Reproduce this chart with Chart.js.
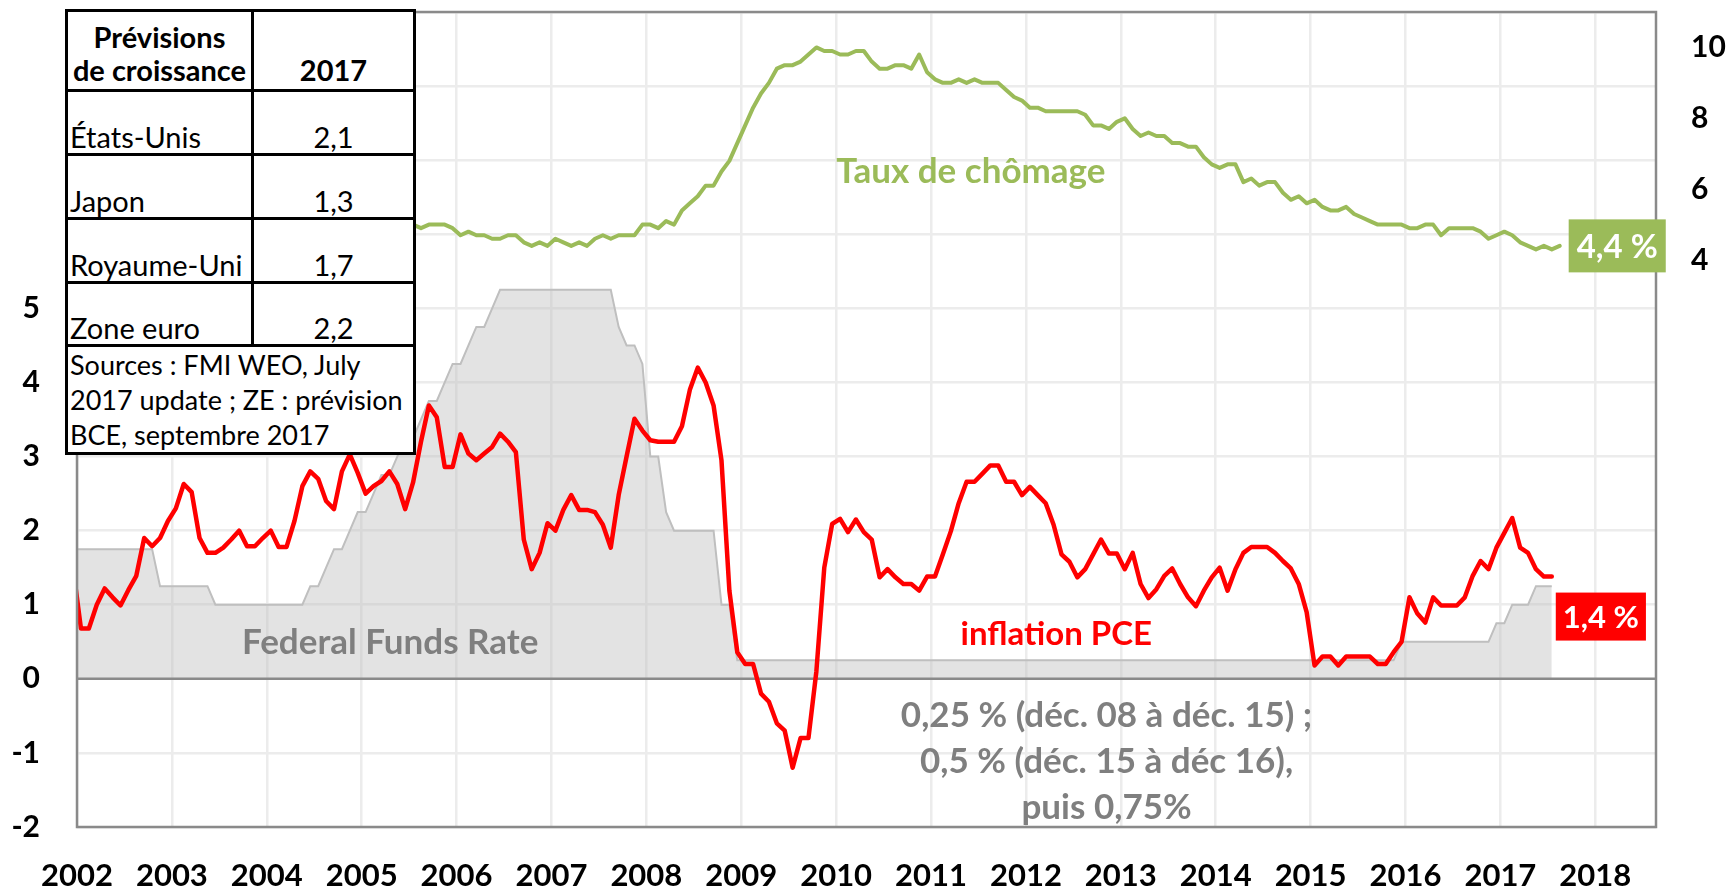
<!DOCTYPE html>
<html lang="fr">
<head>
<meta charset="utf-8">
<title>Inflation PCE, chômage et Federal Funds Rate</title>
<script src="https://cdn.jsdelivr.net/npm/chart.js@4.4.1/dist/chart.umd.min.js"></script>
<style>
  html, body { margin: 0; padding: 0; background: #fff; }
  #wrap { position: relative; width: 1731px; height: 888px; overflow: hidden; }
  #chart { position: absolute; left: 0; top: 0; }
  #prev {
    position: absolute; left: 65px; top: 9px;
    border-collapse: collapse; table-layout: fixed;
    background: #fff; color: #000;
    font-family: Lato, sans-serif; font-size: 29px; line-height: 33px;
  }
  #prev td, #prev th { border: 3px solid #000; padding: 0 2px; white-space: nowrap; overflow: hidden; }
  #prev th { font-weight: bold; text-align: center; vertical-align: bottom; padding-bottom: 3px; }
  #prev td { vertical-align: bottom; }
  #prev td.v { text-align: center; }
  #prev td.src { vertical-align: top; font-size: 27px; line-height: 35px; padding-top: 0; }
</style>
</head>
<body>
<div id="wrap">
  <canvas id="chart" width="1731" height="888"></canvas>
  <table id="prev">
    <colgroup><col style="width:186px"><col style="width:162px"></colgroup>
    <tbody id="prevBody"></tbody>
  </table>
</div>
<script>
// --- DATA (mensuel, de déc. 2001 à juil./août 2017) ---
// inflation PCE, glissement annuel (%)
const pce = [
  1.5,
  0.68, 0.68, 1.0, 1.22, 1.1, 0.99, 1.2, 1.39, 1.9, 1.79, 1.9, 2.13,      // 2002
  2.3, 2.63, 2.52, 1.9, 1.7, 1.7, 1.77, 1.88, 2.0, 1.79, 1.79, 1.9,        // 2003
  2.0, 1.78, 1.78, 2.13, 2.6, 2.8, 2.7, 2.4, 2.29, 2.8, 3.03, 2.78,        // 2004
  2.5, 2.6, 2.67, 2.8, 2.63, 2.29, 2.65, 3.2, 3.69, 3.53, 2.86, 2.86,      // 2005
  3.3, 3.04, 2.95, 3.04, 3.13, 3.31, 3.2, 3.06, 1.88, 1.48, 1.7, 2.1,      // 2006
  2.0, 2.28, 2.48, 2.28, 2.28, 2.25, 2.08, 1.77, 2.48, 3.0, 3.51, 3.35,    // 2007
  3.22, 3.2, 3.2, 3.2, 3.41, 3.9, 4.2, 4.0, 3.69, 2.95, 1.19, 0.36,        // 2008
  0.2, 0.2, -0.2, -0.31, -0.6, -0.7, -1.2, -0.8, -0.8, 0.1, 1.5, 2.09,     // 2009
  2.16, 1.98, 2.15, 1.98, 1.88, 1.37, 1.48, 1.37, 1.28, 1.28, 1.19, 1.38,  // 2010
  1.38, 1.68, 1.99, 2.37, 2.66, 2.66, 2.77, 2.88, 2.88, 2.66, 2.66, 2.48,  // 2011
  2.59, 2.48, 2.37, 2.08, 1.68, 1.58, 1.37, 1.48, 1.68, 1.88, 1.69, 1.69,  // 2012
  1.48, 1.7, 1.28, 1.09, 1.21, 1.39, 1.49, 1.28, 1.1, 0.98, 1.19, 1.37,    // 2013
  1.5, 1.19, 1.48, 1.7, 1.78, 1.78, 1.78, 1.7, 1.59, 1.49, 1.28, 0.9,      // 2014
  0.18, 0.3, 0.3, 0.18, 0.3, 0.3, 0.3, 0.3, 0.2, 0.2, 0.36, 0.5,           // 2015
  1.1, 0.88, 0.76, 1.1, 0.99, 0.99, 0.99, 1.1, 1.39, 1.59, 1.48, 1.77,     // 2016
  1.97, 2.17, 1.77, 1.7, 1.48, 1.38, 1.38                                  // 2017
];

// taux de chômage (%), axe de droite
const unemployment = [
  5.7,
  5.7, 5.7, 5.7, 5.9, 5.8, 5.8, 5.8, 5.7, 5.7, 5.7, 5.9, 6.0,   // 2002
  5.8, 5.9, 5.9, 6.0, 6.1, 6.3, 6.2, 6.1, 6.1, 6.0, 5.8, 5.7,   // 2003
  5.7, 5.6, 5.8, 5.6, 5.6, 5.6, 5.5, 5.4, 5.4, 5.5, 5.4, 5.4,   // 2004
  5.3, 5.4, 5.2, 5.2, 5.1, 5.0, 5.0, 4.9, 5.0, 5.0, 5.0, 4.9,   // 2005
  4.7, 4.8, 4.7, 4.7, 4.6, 4.6, 4.7, 4.7, 4.5, 4.4, 4.5, 4.4,   // 2006
  4.6, 4.5, 4.4, 4.5, 4.4, 4.6, 4.7, 4.6, 4.7, 4.7, 4.7, 5.0,   // 2007
  5.0, 4.9, 5.1, 5.0, 5.4, 5.6, 5.8, 6.1, 6.1, 6.5, 6.8, 7.3,   // 2008
  7.8, 8.3, 8.7, 9.0, 9.4, 9.5, 9.5, 9.6, 9.8, 10.0, 9.9, 9.9,  // 2009
  9.8, 9.8, 9.9, 9.9, 9.6, 9.4, 9.4, 9.5, 9.5, 9.4, 9.8, 9.3,   // 2010
  9.1, 9.0, 9.0, 9.1, 9.0, 9.1, 9.0, 9.0, 9.0, 8.8, 8.6, 8.5,   // 2011
  8.3, 8.3, 8.2, 8.2, 8.2, 8.2, 8.2, 8.1, 7.8, 7.8, 7.7, 7.9,   // 2012
  8.0, 7.7, 7.5, 7.6, 7.5, 7.5, 7.3, 7.3, 7.2, 7.2, 6.9, 6.7,   // 2013
  6.6, 6.7, 6.7, 6.2, 6.3, 6.1, 6.2, 6.2, 5.9, 5.7, 5.8, 5.6,   // 2014
  5.7, 5.5, 5.4, 5.4, 5.5, 5.3, 5.2, 5.1, 5.0, 5.0, 5.0, 5.0,   // 2015
  4.9, 4.9, 5.0, 5.0, 4.7, 4.9, 4.9, 4.9, 4.9, 4.8, 4.6, 4.7,   // 2016
  4.8, 4.7, 4.5, 4.4, 4.3, 4.4, 4.3, 4.4                        // 2017
];

// taux des Fed funds (borne haute de la cible, %)
const fedFunds = [
  1.75,
  1.75, 1.75, 1.75, 1.75, 1.75, 1.75, 1.75, 1.75, 1.75, 1.75, 1.25, 1.25, // 2002
  1.25, 1.25, 1.25, 1.25, 1.25, 1.0, 1.0, 1.0, 1.0, 1.0, 1.0, 1.0,       // 2003
  1.0, 1.0, 1.0, 1.0, 1.0, 1.25, 1.25, 1.5, 1.75, 1.75, 2.0, 2.25,       // 2004
  2.25, 2.5, 2.75, 2.75, 3.0, 3.25, 3.25, 3.5, 3.75, 3.75, 4.0, 4.25,    // 2005
  4.25, 4.5, 4.75, 4.75, 5.0, 5.25, 5.25, 5.25, 5.25, 5.25, 5.25, 5.25,  // 2006
  5.25, 5.25, 5.25, 5.25, 5.25, 5.25, 5.25, 5.25, 4.75, 4.5, 4.5, 4.25,  // 2007
  3.0, 3.0, 2.25, 2.0, 2.0, 2.0, 2.0, 2.0, 2.0, 1.0, 1.0, 0.25,          // 2008
  0.25, 0.25, 0.25, 0.25, 0.25, 0.25, 0.25, 0.25, 0.25, 0.25, 0.25, 0.25, // 2009
  0.25, 0.25, 0.25, 0.25, 0.25, 0.25, 0.25, 0.25, 0.25, 0.25, 0.25, 0.25, // 2010
  0.25, 0.25, 0.25, 0.25, 0.25, 0.25, 0.25, 0.25, 0.25, 0.25, 0.25, 0.25, // 2011
  0.25, 0.25, 0.25, 0.25, 0.25, 0.25, 0.25, 0.25, 0.25, 0.25, 0.25, 0.25, // 2012
  0.25, 0.25, 0.25, 0.25, 0.25, 0.25, 0.25, 0.25, 0.25, 0.25, 0.25, 0.25, // 2013
  0.25, 0.25, 0.25, 0.25, 0.25, 0.25, 0.25, 0.25, 0.25, 0.25, 0.25, 0.25, // 2014
  0.25, 0.25, 0.25, 0.25, 0.25, 0.25, 0.25, 0.25, 0.25, 0.25, 0.25, 0.5,  // 2015
  0.5, 0.5, 0.5, 0.5, 0.5, 0.5, 0.5, 0.5, 0.5, 0.5, 0.5, 0.75,           // 2016
  0.75, 1.0, 1.0, 1.0, 1.25, 1.25, 1.25                                  // 2017
];

const yearTicks = [2002, 2003, 2004, 2005, 2006, 2007, 2008, 2009, 2010,
  2011, 2012, 2013, 2014, 2015, 2016, 2017, 2018];
const leftTicks = [-2, -1, 0, 1, 2, 3, 4, 5];
const rightTicks = [4, 6, 8, 10];

// tableau des prévisions de croissance 2017
const forecastRegions = ["États-Unis", "Japon", "Royaume-Uni", "Zone euro"];
const forecast2017 = [2.1, 1.3, 1.7, 2.2];
const forecastSource = ["Sources : FMI WEO, July", "2017 update ; ZE : prévision", "BCE, septembre 2017"];

// --- HELPERS ---
const firstMonth = 2001 + 11.5 / 12;   // milieu de décembre 2001
const toPoints = vals => vals.map((v, i) => ({ x: firstMonth + i / 12, y: v }));
const frNum = v => v.toFixed(1).replace(".", ",");

const GREEN = "#9BBB59";
const RED = "#FF0000";
const GREY_TXT = "#7F7F7F";
const GRID = "#ECECEC";

// pas de marge automatique autour des axes : la zone de tracé est fixée
function noPad(s) {
  s.paddingTop = 0;
  s.paddingBottom = 0;
  s.paddingLeft = 0;
  s.paddingRight = 0;
}

// --- TABLE ---
function buildTable() {
  const rows = [
    `<tr style="height:80px"><th>Prévisions<br>de croissance</th><th>2017</th></tr>`
  ];
  forecastRegions.forEach((r, i) => {
    rows.push(`<tr style="height:${i === 3 ? 63 : 64}px"><td>${r}</td><td class="v">${frNum(forecast2017[i])}</td></tr>`);
  });
  rows.push(`<tr style="height:108px"><td class="src" colspan="2">${forecastSource.join("<br>")}</td></tr>`);
  document.getElementById("prevBody").innerHTML = rows.join("");
}

// --- PLUGINS ---
const zeroLine = {
  id: "zeroLine",
  afterDatasetDraw(chart, args) {
    if (args.index !== 2) return;   // juste après l'aire grise
    const { ctx, chartArea: a } = chart;
    const y = chart.scales.y.getPixelForValue(0);
    ctx.save();
    ctx.strokeStyle = "#8A8A8A";
    ctx.lineWidth = 2.5;
    ctx.beginPath();
    ctx.moveTo(a.left, y);
    ctx.lineTo(a.right, y);
    ctx.stroke();
    ctx.restore();
  }
};

const frame = {
  id: "frame",
  afterDatasetsDraw(chart) {
    const { ctx, chartArea: a } = chart;
    ctx.save();
    ctx.strokeStyle = "#8A8A8A";
    ctx.lineWidth = 2.5;
    ctx.strokeRect(a.left, a.top, a.right - a.left, a.bottom - a.top);
    ctx.restore();
  }
};

// textes posés en coordonnées de données (x en années, y axe de gauche)
const notes = [
  { lines: ["Taux de chômage"], x: 2011.42, y: 6.69, color: GREEN, size: 35 },
  { lines: ["Federal Funds Rate"], x: 2005.30, y: 0.34, color: GREY_TXT, size: 35 },
  { lines: ["inflation PCE"], x: 2012.32, y: 0.46, color: RED, size: 33 },
  { lines: ["0,25 % (déc. 08 à déc. 15) ;", "0,5 % (déc. 15 à déc 16),", "puis 0,75%"],
    x: 2012.85, y: -0.65, color: GREY_TXT, size: 35, step: 46 }
];

const annotations = {
  id: "annotations",
  afterDraw(chart) {
    const { ctx, scales } = chart;
    ctx.save();
    ctx.textAlign = "center";
    ctx.textBaseline = "alphabetic";
    notes.forEach(n => {
      ctx.font = `bold ${n.size}px Lato`;
      ctx.fillStyle = n.color;
      const px = scales.x.getPixelForValue(n.x);
      const py = scales.y.getPixelForValue(n.y);
      n.lines.forEach((t, i) => ctx.fillText(t, px, py + i * (n.step || 0)));
    });

    // étiquettes de dernière valeur
    const lastBox = (dsIndex, bg, size, dx, dy, padX, h) => {
      const meta = chart.getDatasetMeta(dsIndex);
      const pt = meta.data[meta.data.length - 1];
      const vals = chart.data.datasets[dsIndex].data;
      const label = frNum(vals[vals.length - 1].y) + " %";
      ctx.font = `bold ${size}px Lato`;
      const w = ctx.measureText(label).width + padX * 2;
      const left = pt.x + dx;
      const top = dy === null ? pt.y - h / 2 : pt.y + dy;
      ctx.fillStyle = bg;
      ctx.fillRect(left, top, w, h);
      ctx.fillStyle = "#fff";
      ctx.textBaseline = "middle";
      ctx.fillText(label, left + w / 2, top + h / 2 + 1);
    };
    lastBox(1, GREEN, 33, 9, null, 8, 53);
    lastBox(0, RED, 31, 4, 16, 7, 48);
    ctx.restore();
  }
};

// --- CHART ---
let chart;
function renderChart() {
  Chart.defaults.font.family = "Lato";
  Chart.defaults.color = "#000";

  chart = new Chart(document.getElementById("chart"), {
    type: "line",
    data: {
      datasets: [
        {
          label: "inflation PCE",
          data: toPoints(pce),
          yAxisID: "y",
          borderColor: RED,
          borderWidth: 4.5,
          pointRadius: 0,
          tension: 0,
          borderJoinStyle: "round",
          borderCapStyle: "round",
          clip: 0
        },
        {
          label: "Taux de chômage",
          data: toPoints(unemployment),
          yAxisID: "y2",
          borderColor: GREEN,
          borderWidth: 4,
          pointRadius: 0,
          tension: 0,
          borderJoinStyle: "round",
          borderCapStyle: "round",
          clip: 0
        },
        {
          label: "Federal Funds Rate",
          data: toPoints(fedFunds),
          yAxisID: "y",
          borderColor: "#BFBFBF",
          borderWidth: 2,
          backgroundColor: "rgba(191,191,191,0.43)",
          fill: "origin",
          pointRadius: 0,
          tension: 0,
          clip: 0
        }
      ]
    },
    options: {
      responsive: false,
      animation: false,
      devicePixelRatio: 1,
      layout: { padding: { top: 12, left: 0, right: 0, bottom: 0 } },
      plugins: {
        legend: { display: false },
        tooltip: { enabled: false }
      },
      scales: {
        x: {
          type: "linear",
          min: 2002,
          max: 2018.64,
          afterFit: s => { noPad(s); s.height = 61; },
          afterBuildTicks: s => { s.ticks = yearTicks.map(v => ({ value: v })); },
          grid: { color: GRID, lineWidth: 2.5, drawTicks: false },
          border: { display: false },
          ticks: {
            autoSkip: false,
            maxRotation: 0,
            padding: 30,
            font: { size: 31, weight: "bold" },
            callback: v => String(v)
          }
        },
        y: {
          position: "left",
          min: -2,
          max: 9,
          afterFit: s => { noPad(s); s.width = 77; },
          grid: {
            color: c => (c.tick.value === 0 ? "rgba(0,0,0,0)" : GRID),
            lineWidth: 2.5,
            drawTicks: false
          },
          border: { display: false },
          ticks: {
            stepSize: 1,
            padding: 37,
            font: { size: 30, weight: "bold" },
            callback: v => (leftTicks.includes(v) ? String(v) : "")
          }
        },
        y2: {
          position: "right",
          min: -12,
          max: 11,
          afterFit: s => { noPad(s); s.width = 75; },
          afterBuildTicks: s => { s.ticks = rightTicks.map(v => ({ value: v })); },
          grid: { display: false, drawTicks: false },
          border: { display: false },
          ticks: {
            padding: 35,
            font: { size: 30, weight: "bold" },
            callback: v => String(v)
          }
        }
      }
    },
    plugins: [zeroLine, frame, annotations]
  });
}

// --- INITIAL LOAD ---
buildTable();
document.fonts.load("bold 30px Lato").then(renderChart, renderChart);
</script>
</body>
</html>
